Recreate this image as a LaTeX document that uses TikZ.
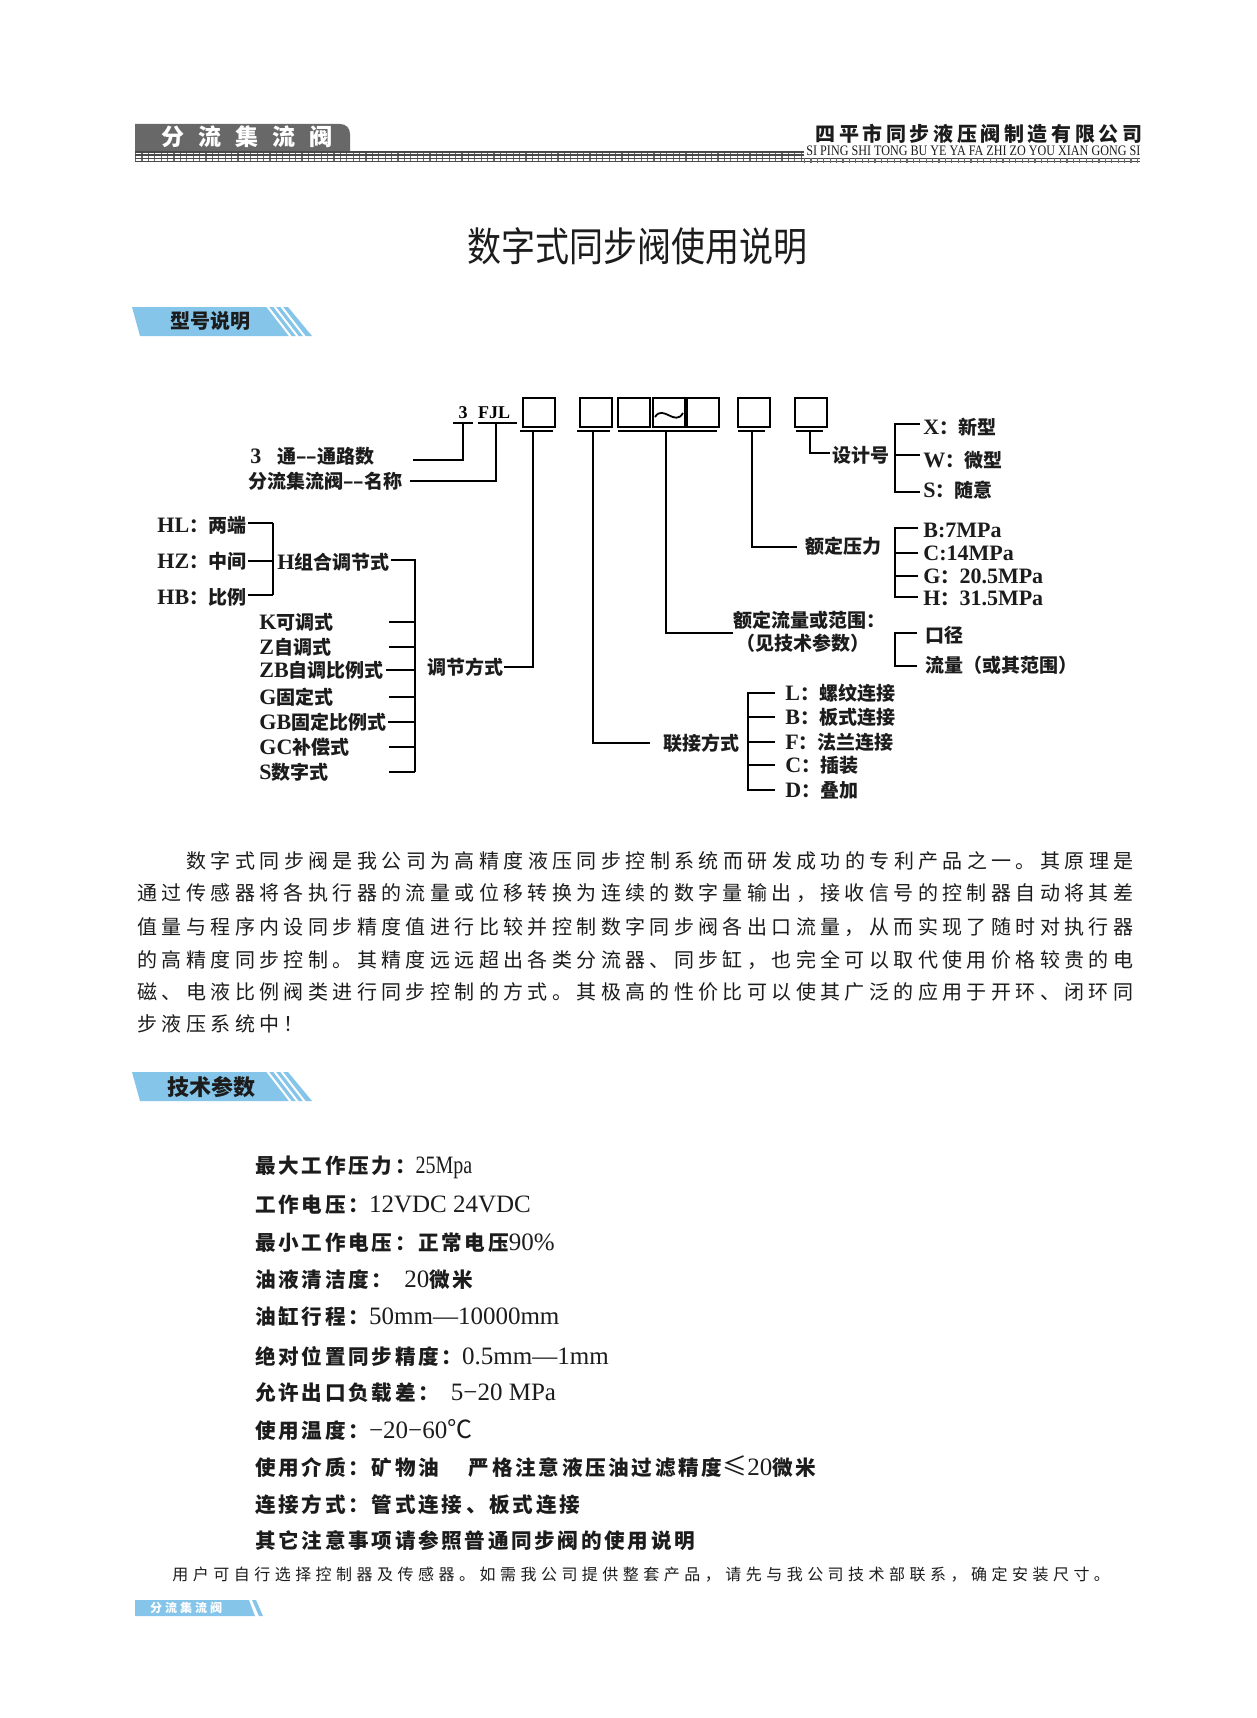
\documentclass[tikz,border=0pt]{standalone}
\usepackage{fontspec}
\setmainfont{Liberation Serif}
\newfontfamily\zh{Noto Sans CJK SC}
\usetikzlibrary{positioning}

\definecolor{tabgray}{RGB}{104,104,104}
\definecolor{tabblue}{RGB}{133,197,234}
\definecolor{ink}{RGB}{28,28,28}

% chinese part of the diagram labels
\newcommand\zc{\zh\fontsize{9.5}{11}\selectfont}
% chinese part of the parameter list
\newcommand\zl{\zh\bfseries\fontsize{10.3}{11}\selectfont\addfontfeature{LetterSpace=13}}

\tikzset{
    cell/.style={draw, line width=1pt, minimum width=16pt, minimum height=14.5pt, inner sep=0pt},
    wire/.style={line width=0.9pt},
    lbl/.style={anchor=west, inner sep=0pt, text=ink, font=\bfseries\fontsize{11}{12}\selectfont},
    para/.style={anchor=west, inner sep=0pt, text=ink, font=\zh\fontsize{10}{12}\selectfont\addfontfeature{LetterSpace=22}},
    spec/.style={anchor=west, inner sep=0pt, text=ink, font=\fontsize{12.5}{14}\selectfont},
}

\begin{document}
\begin{tikzpicture}[x=0.5pt, y=-0.5pt]
    \useasboundingbox (0,0) rectangle (1257,1718);
    \fill[white] (0,0) rectangle (1257,1718);

    % page head
    \fill[tabgray] (135,124) -- (340,124) .. controls (346,124) and (350,128) .. (350,134)
        -- (350,151) -- (135,151) -- cycle;
    \node[text=white, inner sep=0pt, font=\zh\bfseries\fontsize{11.5}{12}\selectfont\addfontfeature{LetterSpace=61}]
        (headtab) at (247,137) {分流集流阀};
    \draw[tabgray, line width=5pt, dash pattern=on 0.6pt off 2.6pt]
        (135,156.8) -- (804,156.8);
    \draw[tabgray!70!black, line width=0.6pt]
        (135,152) -- (804,152)
        (135,155) -- (804,155)
        (135,158.5) -- (1140,158.5)
        (135,161.5) -- (1140,161.5);
    \draw[tabgray, line width=2.5pt, dash pattern=on 0.6pt off 2.6pt]
        (804,160) -- (1140,160);
    \node[inner sep=0pt, text=ink, font=\zh\bfseries\fontsize{10}{10}\selectfont\addfontfeature{LetterSpace=18}]
        (company) at (979,134) {四平市同步液压阀制造有限公司};
    \node[anchor=south west, inner sep=0pt, text=ink] (pinyin) at (806,156.5)
        {\resizebox{167pt}{4.8pt}{SI PING SHI TONG BU YE YA FA ZHI ZO YOU XIAN GONG SI}};

    % title
    \node[inner sep=0pt, text=ink, font=\zh\fontsize{17}{20}\selectfont] (title) at (637,246)
        {\scalebox{1}[1.18]{数字式同步阀使用说明}};

    % section tab 1
    \fill[tabblue] (132,307) -- (288,307) -- (312,336) -- (140,336) -- cycle;
    \draw[white, line width=1pt]
        (267,306) -- (291,337)
        (274,306) -- (298,337)
        (281,306) -- (305,337);
    \node[inner sep=0pt, text=ink, font=\zh\bfseries\fontsize{10}{11}\selectfont] (tabmodel) at (210,321) {型号说明};

    % code row
    \node[inner sep=0pt, font=\bfseries\fontsize{9}{10}\selectfont] (c3) at (463,413) {3};
    \node[inner sep=0pt, font=\bfseries\fontsize{9}{10}\selectfont] (cfjl) at (494,413) {FJL};
    \node[cell] (b1) at (539,412.5) {};
    \node[cell] (b2) at (596,412.5) {};
    \node[cell] (b3) at (633.5,412.5) {};
    \node[cell] (b4) at (669,412.5) {};
    \node[cell] (b5) at (702.5,412.5) {};
    \node[cell] (b6) at (754,412.5) {};
    \node[cell] (b7) at (811,412.5) {};
    \draw[wire] (655,417) .. controls (663,404) and (675,427) .. (683,413);

    \draw[wire]
        (453,423) -- (473,423)
        (478,423) -- (517,423)
        (520,431) -- (553,431)
        (577,431) -- (610,431)
        (618,431) -- (717,431)
        (738,431) -- (765,431)
        (796,431) -- (823,431);

    % left labels
    \node[lbl] (t3) at (250,456) {3\hspace{8pt}\zc 通\textendash\textendash 通路数};
    \node[lbl] (tname) at (248,481) {\zc 分流集流阀\textendash\textendash 名称};
    \node[lbl] (hl) at (157,525) {HL\zc ：两端};
    \node[lbl] (hz) at (157,561) {HZ\zc ：中间};
    \node[lbl] (hb) at (157,597) {HB\zc ：比例};
    \node[lbl] (hzuhe) at (277,562) {H\zc 组合调节式};
    \node[lbl] (mk) at (259,622) {K\zc 可调式};
    \node[lbl] (mz) at (259,647) {Z\zc 自调式};
    \node[lbl] (mzb) at (259,670) {ZB\zc 自调比例式};
    \node[lbl] (mg) at (259,697) {G\zc 固定式};
    \node[lbl] (mgb) at (259,722) {GB\zc 固定比例式};
    \node[lbl] (mgc) at (259,747) {GC\zc 补偿式};
    \node[lbl] (ms) at (259,772) {S\zc 数字式};
    \node[lbl] (tiaojie) at (427,667) {\zc 调节方式};

    % right labels
    \node[lbl] (sheji) at (832,455) {\zc 设计号};
    \node[lbl] (dx) at (923,427) {X\zc ：新型};
    \node[lbl] (dw) at (923,460) {W\zc ：微型};
    \node[lbl] (ds) at (923,490) {S\zc ：随意};
    \node[lbl] (yali) at (805,546) {\zc 额定压力};
    \node[lbl] (pb) at (923,530) {B:7MPa};
    \node[lbl] (pc) at (923,553) {C:14MPa};
    \node[lbl] (pg) at (923,576) {G{\zc ：}20.5MPa};
    \node[lbl] (ph) at (923,598) {H{\zc ：}31.5MPa};
    \node[lbl] (liuliang) at (733,620) {\zc 额定流量或范围：};
    \node[lbl] (jiancan) at (736,643) {\zc （见技术参数）};
    \node[lbl] (koujing) at (925,635) {\zc 口径};
    \node[lbl] (llfw) at (925,665) {\zc 流量（或其范围）};
    \node[lbl] (lianjie) at (663,743) {\zc 联接方式};
    \node[lbl] (cl) at (785,693) {L\zc ：螺纹连接};
    \node[lbl] (cb) at (785,717) {B\zc ：板式连接};
    \node[lbl] (cf) at (785,742) {F\zc ：法兰连接};
    \node[lbl] (cc) at (785,765) {C\zc ：插装};
    \node[lbl] (cd) at (785,790) {D\zc ：叠加};

    % leader lines
    \draw[wire]
        (463,423) |- (413,460)
        (496,423) |- (410,481)
        (248,523) -- (273,523)
        (248,561) -- (273,561)
        (248,595) -- (273,595)
        (273,523) -- (273,595)
        (391,560) -| (415,772)
        (533,431) |- (tiaojie.east)
        (593,431) |- (650,743)
        (666,431) |- (733,633)
        (752,431) |- (797,547)
        (810,431) |- (830,453);

    \draw[wire]
        (389,622) -- (415,622)
        (389,647) -- (415,647)
        (386,670) -- (415,670)
        (389,697) -- (415,697)
        (388,722) -- (415,722)
        (389,747) -- (415,747)
        (389,772) -- (415,772);

    \draw[wire]
        (920,424) -| (895,492) -- (920,492)
        (895,455) -- (920,455)
        (918,528) -| (895,597) -- (918,597)
        (895,553) -- (918,553)
        (895,576) -- (918,576)
        (917,633) -| (895,666) -- (917,666)
        (775,693) -| (748,790) -- (775,790)
        (748,717) -- (775,717)
        (748,742) -- (775,742)
        (748,765) -- (775,765);

    % text block
    \node[para] (p1) at (186,861) {数字式同步阀是我公司为高精度液压同步控制系统而研发成功的专利产品之一。其原理是};
    \node[para] (p2) at (137,893) {通过传感器将各执行器的流量或位移转换为连续的数字量输出，接收信号的控制器自动将其差};
    \node[para] (p3) at (137,927) {值量与程序内设同步精度值进行比较并控制数字同步阀各出口流量，从而实现了随时对执行器};
    \node[para] (p4) at (137,960) {的高精度同步控制。其精度远远超出各类分流器、同步缸，也完全可以取代使用价格较贵的电};
    \node[para] (p5) at (137,992) {磁、电液比例阀类进行同步控制的方式。其极高的性价比可以使其广泛的应用于开环、闭环同};
    \node[para] (p6) at (137,1024) {步液压系统中！};

    % section tab 2
    \fill[tabblue] (132,1072) -- (288,1072) -- (312,1101) -- (140,1101) -- cycle;
    \draw[white, line width=1pt]
        (267,1071) -- (291,1102)
        (274,1071) -- (298,1102)
        (281,1071) -- (305,1102);
    \node[inner sep=0pt, text=ink, font=\zh\bfseries\fontsize{11}{12}\selectfont] (tabspec) at (211,1087) {技术参数};

    % parameters
    \node[spec] (s1) at (255,1167) {{\zl 最大工作压力：}\scalebox{0.8}[1]{25Mpa}};
    \node[spec] (s2) at (255,1205) {{\zl 工作电压：}12VDC 24VDC};
    \node[spec] (s3) at (255,1243) {{\zl 最小工作电压：正常电压}90\%};
    \node[spec] (s4) at (255,1280) {{\zl 油液清洁度：}\hspace{6pt}20{\zl 微米}};
    \node[spec] (s5) at (255,1317) {{\zl 油缸行程：}50mm—10000mm};
    \node[spec] (s6) at (255,1356) {{\zl 绝对位置同步精度：}0.5mm—1mm};
    \node[spec] (s7) at (255,1393) {{\zl 允许出口负载差：}\hspace{6pt}5−20 MPa};
    \node[spec] (s8) at (255,1430) {{\zl 使用温度：}−20−60{\zh ℃}};
    \node[spec] (s9) at (255,1467) {{\zl 使用介质：矿物油}\hspace{15pt}{\zl 严格注意液压油过滤精度}{\zh ≤}20{\zl 微米}};
    \node[spec] (s10) at (255,1505) {{\zl 连接方式：管式连接}\hspace{2pt}{\zl 、板式连接}};
    \node[spec] (s11) at (255,1541) {{\zl 其它注意事项请参照普通同步阀的使用说明}};

    \node[anchor=west, inner sep=0pt, text=ink, font=\zh\fontsize{8}{9}\selectfont\addfontfeature{LetterSpace=28}]
        (note) at (172,1575) {用户可自行选择控制器及传感器。如需我公司提供整套产品，请先与我公司技术部联系，确定安装尺寸。};

    % page foot
    \fill[tabblue] (135,1600) -- (249,1600) -- (255,1616) -- (135,1616) -- cycle;
    \fill[tabblue] (252,1600) -- (256,1600) -- (263,1616) -- (259,1616) -- cycle;
    \node[text=white, inner sep=0pt, font=\zh\bfseries\fontsize{6}{7}\selectfont\addfontfeature{LetterSpace=25}]
        (foottab) at (186,1608) {分流集流阀};
\end{tikzpicture}
\end{document}
